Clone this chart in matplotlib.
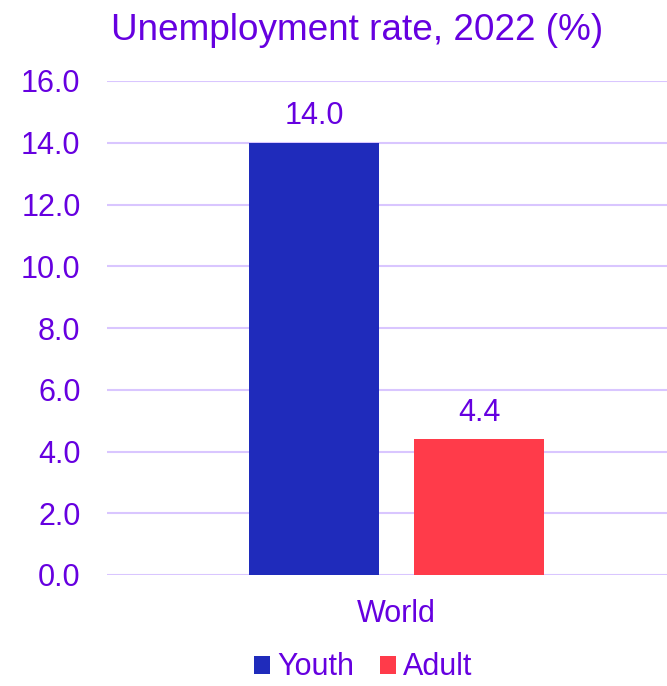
import matplotlib.pyplot as plt
import numpy as np

plt.rcParams['font.family'] = ['Liberation Sans', 'DejaVu Sans']

# Data
regions = ['World']
series = ['Youth', 'Adult']
values = [14.0, 4.4]
colors = ['#1F2BBB', '#FF3B4A']

text_color = '#6600E0'
grid_color = '#D9C6FF'

fig = plt.figure(figsize=(6.67, 6.86), dpi=100)
ax = fig.add_axes([107 / 667, 1 - 575 / 686, 1 - 107 / 667, (575 - 81) / 686])

x = np.arange(len(regions))
width = 0.233
offsets = [-0.1475, 0.1475]
for name, val, col, off in zip(series, values, colors, offsets):
    bars = ax.bar(x + off, [val], width=width, color=col, label=name, zorder=3)
    for b in bars:
        ax.text(b.get_x() + b.get_width() / 2, b.get_height() + 0.6, f'{val:.1f}',
                ha='center', va='baseline', fontsize=22, color=text_color)

ax.set_xlim(-0.517, 0.483)
ax.set_ylim(0, 16)
ax.set_yticks(np.arange(0, 16.1, 2))
ax.set_yticklabels([f'{v:.1f}' for v in np.arange(0, 16.1, 2)])
ax.set_xticks(x)
ax.set_xticklabels(regions)
ax.tick_params(axis='both', length=0, labelsize=22, colors=text_color)
ax.tick_params(axis='y', pad=19)
ax.tick_params(axis='x', pad=17)
ax.grid(axis='y', color=grid_color, linewidth=1.5, zorder=0)
for s in ax.spines.values():
    s.set_visible(False)

fig.text(0.536, 1 - 40 / 686, 'Unemployment rate, 2022 (%)', ha='center', va='baseline',
         fontsize=26.6, color=text_color)

leg = fig.legend(loc='lower center', bbox_to_anchor=(0.545, -0.026), ncol=2, frameon=False,
                 fontsize=22, handlelength=0.52, handleheight=0.52, handletextpad=0.23,
                 columnspacing=0.85, borderpad=0.2)
for t in leg.get_texts():
    t.set_color(text_color)

fig.savefig('out.png', dpi=100)
